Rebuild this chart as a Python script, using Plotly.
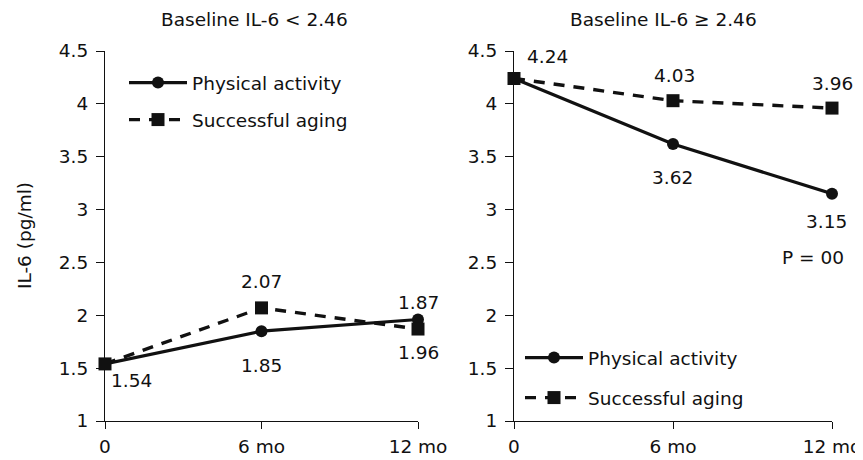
import plotly.graph_objects as go

# ---- data ----
time_vals = [0, 6, 12]
time_labels = ["0", "6 mo", "12 mo"]
y_ticks = [1, 1.5, 2, 2.5, 3, 3.5, 4, 4.5]
y_tick_labels = ["1", "1.5", "2", "2.5", "3", "3.5", "4", "4.5"]

low_pa = [1.54, 1.85, 1.96]     # Baseline IL-6 < 2.46, Physical activity
low_sa = [1.54, 2.07, 1.87]     # Baseline IL-6 < 2.46, Successful aging
high_pa = [4.24, 3.62, 3.15]    # Baseline IL-6 >= 2.46, Physical activity
high_sa = [4.24, 4.03, 3.96]    # Baseline IL-6 >= 2.46, Successful aging

series_names = ["Physical activity", "Successful aging"]
panel_titles = ["Baseline IL-6 < 2.46", "Baseline IL-6 \u2265 2.46"]
y_title = "IL-6 (pg/ml)"
p_text = "P = 00"

FONT = "DejaVu Sans, Verdana, sans-serif"
FS = 18.5
BLACK = "#111111"

W, H = 863, 460
OFF = 8  # page body margin compensation
def px_x(p):
    return (p - OFF) / W
def px_y(p):
    return (H - (p - OFF)) / H

fig = go.Figure()

def add_pair(pa, sa, xa, ya, legend):
    fig.add_trace(go.Scatter(
        x=time_vals, y=pa, xaxis=xa, yaxis=ya, name=series_names[0],
        mode="lines+markers", line=dict(color=BLACK, width=3.2),
        marker=dict(symbol="circle", size=12, color=BLACK),
        cliponaxis=False, legend=legend, legendgroup=legend + "a"))
    fig.add_trace(go.Scatter(
        x=time_vals, y=sa, xaxis=xa, yaxis=ya, name=series_names[1],
        mode="lines+markers", line=dict(color=BLACK, width=3.4, dash="11px,9px"),
        marker=dict(symbol="square", size=13, color=BLACK),
        cliponaxis=False, legend=legend, legendgroup=legend + "b"))

add_pair(low_pa, low_sa, "x", "y", "legend")
add_pair(high_pa, high_sa, "x2", "y2", "legend2")

def axis_style(ticklen):
    return dict(
        showline=True, linecolor=BLACK, linewidth=1.2, ticks="outside",
        ticklen=ticklen, tickwidth=1.2, tickcolor=BLACK, showgrid=False, zeroline=False,
        automargin=False, tickfont=dict(family=FONT, size=FS, color=BLACK),
    )

ydom = [px_y(421), px_y(51)]
fig.update_layout(
    xaxis=dict(domain=[px_x(105), px_x(418)], range=[0, 12], tickvals=time_vals,
               ticktext=time_labels, anchor="y", ticklabelstandoff=2, **axis_style(7)),
    yaxis=dict(domain=ydom, range=[1, 4.5], tickvals=y_ticks, ticktext=y_tick_labels,
               anchor="x", ticklabelstandoff=4, **axis_style(8)),
    xaxis2=dict(domain=[px_x(514), px_x(832)], range=[0, 12], tickvals=time_vals,
                ticktext=time_labels, anchor="y2", ticklabelstandoff=2, **axis_style(7)),
    yaxis2=dict(domain=ydom, range=[1, 4.5], tickvals=y_ticks, ticktext=y_tick_labels,
                anchor="x2", ticklabelstandoff=4, **axis_style(8)),
)

leg_common = dict(font=dict(family=FONT, size=FS, color=BLACK), bgcolor="rgba(0,0,0,0)",
                  itemwidth=58, xanchor="left", yanchor="top", traceorder="grouped")
fig.update_layout(
    legend=dict(x=px_x(124), y=px_y(64), tracegroupgap=10, **leg_common),
    legend2=dict(x=px_x(520), y=px_y(339), tracegroupgap=13, **leg_common),
)

ann = []
def lab(text, x, y, xref, yref, dx, dy):
    ann.append(dict(text=text, x=x, y=y, xref=xref, yref=yref, xshift=dx, yshift=dy,
                    xanchor="center", yanchor="middle",
                    showarrow=False, font=dict(family=FONT, size=FS, color=BLACK)))

# left panel value labels
lab("1.54", time_vals[0], low_pa[0], "x", "y", 26, -17)
lab("1.85", time_vals[1], low_pa[1], "x", "y", 0, -34)
lab("2.07", time_vals[1], low_sa[1], "x", "y", 0, 26)
lab("1.87", time_vals[2], low_sa[2], "x", "y", 0, 27)
lab("1.96", time_vals[2], low_pa[2], "x", "y", 0, -33)
# right panel value labels
lab("4.24", time_vals[0], high_sa[0], "x2", "y2", 33, 22)
lab("4.03", time_vals[1], high_sa[1], "x2", "y2", 1, 25)
lab("3.96", time_vals[2], high_sa[2], "x2", "y2", 0, 25)
lab("3.62", time_vals[1], high_pa[1], "x2", "y2", -1, -33)
lab("3.15", time_vals[2], high_pa[2], "x2", "y2", -6, -28)
lab(p_text, time_vals[2], high_pa[2], "x2", "y2", -19, -64)

# panel titles and y-axis title
for txt, cx in ((panel_titles[0], 255), (panel_titles[1], 663)):
    ann.append(dict(text=txt, x=px_x(cx), y=px_y(20), xref="paper", yref="paper",
                    xanchor="center", yanchor="middle",
                    showarrow=False, font=dict(family=FONT, size=FS, color=BLACK)))
ann.append(dict(text=y_title, x=px_x(24), y=px_y(236), xref="paper", yref="paper",
                xanchor="center", yanchor="middle",
                textangle=-90, showarrow=False, font=dict(family=FONT, size=FS, color=BLACK)))

fig.update_layout(
    annotations=ann, width=W, height=H, margin=dict(l=0, r=0, t=0, b=0, autoexpand=False),
    paper_bgcolor="white", plot_bgcolor="white", showlegend=True,
    font=dict(family=FONT, size=FS, color=BLACK),
)

fig.write_html("out.html")
